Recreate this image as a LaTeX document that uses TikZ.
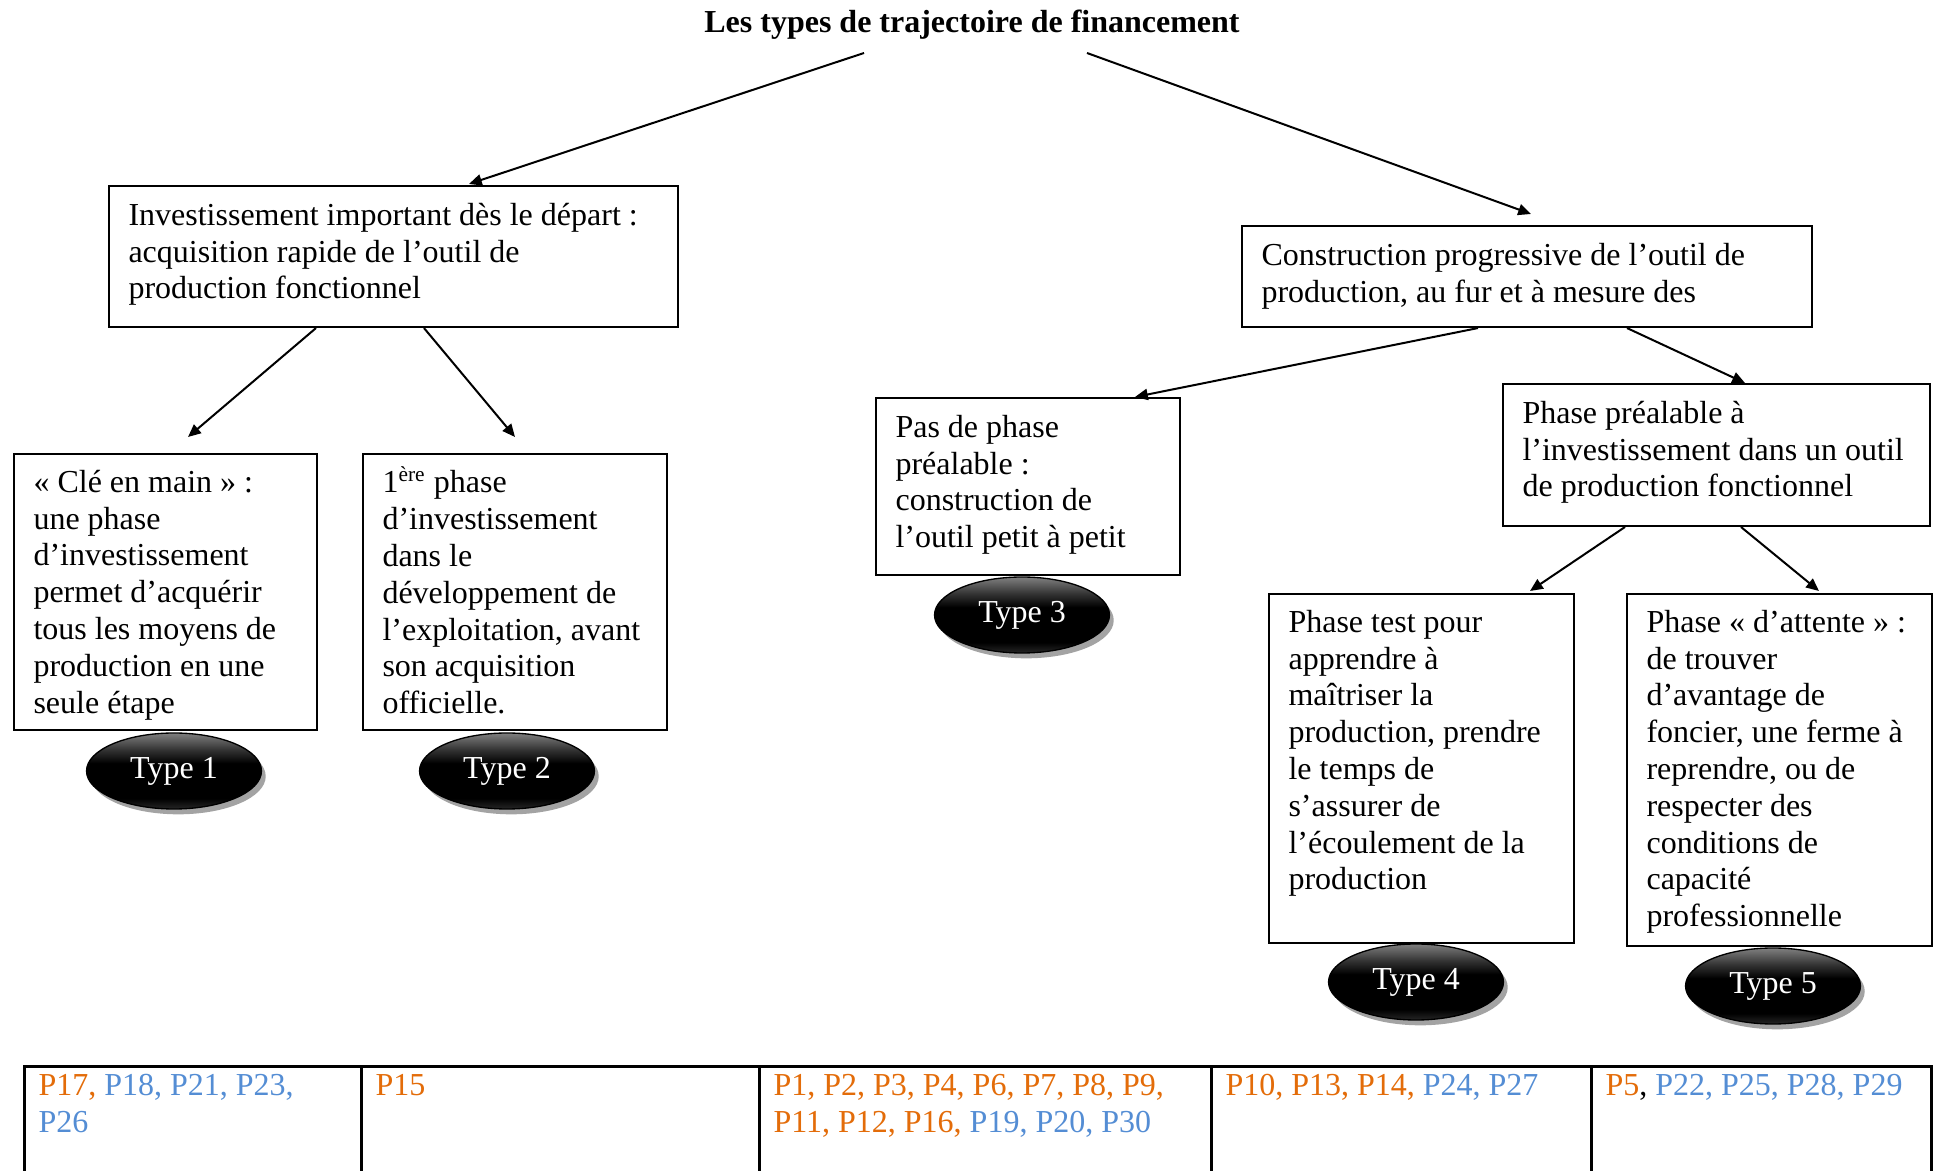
\documentclass[tikz,border=0pt]{standalone}
\usepackage{fontspec}
\setmainfont{Liberation Serif}
\usetikzlibrary{arrows.meta,calc,shapes.geometric,shadows}
\definecolor{orng}{HTML}{E36C09}
\definecolor{blu}{HTML}{548DD4}
\pgfdeclareverticalshading{typeshade}{100bp}{color(0bp)=(black!85); color(25bp)=(black!85); color(32bp)=(black); color(55bp)=(black); color(64bp)=(black!80); color(75bp)=(black!50); color(100bp)=(black!50)}
\begin{document}
\begin{tikzpicture}[x=0.375pt,y=-0.375pt,
  boxrect/.style={draw, line width=0.75pt, rectangle, inner sep=0pt, anchor=north west},
  txt/.style={inner sep=0pt, anchor=north west, align=left, font=\fontsize{12}{13.8}\selectfont},
  cell/.style={draw, line width=1pt, rectangle, inner sep=0pt, anchor=north west, minimum height=75pt},
  typeell/.style={ellipse, draw=black, line width=0.5pt, shade, shading=typeshade,
    minimum width=65.6pt, minimum height=28.5pt, inner sep=0pt, text=white,
    font=\fontsize{12}{13.8}\selectfont,
    drop shadow={shadow xshift=1.6pt, shadow yshift=-2pt, fill=black!45, opacity=0.8}},
  arr/.style={line width=0.75pt, -{Triangle[length=4.8pt,width=4.2pt]}}
]
\useasboundingbox (0,0) rectangle (1936,1171);

% title
\node[inner sep=0pt, anchor=base, font=\fontsize{12}{13.8}\selectfont\bfseries] (title) at (972,33) {Les types de trajectoire de financement};

% boxes
\node[boxrect, minimum width=213.4pt, minimum height=52.9pt] (A) at (108,185) {};
\node[boxrect, minimum width=213.8pt, minimum height=37.9pt] (B) at (1241,225) {};
\node[boxrect, minimum width=113.6pt, minimum height=103.5pt] (T1) at (13,453) {};
\node[boxrect, minimum width=114pt, minimum height=103.5pt] (T2) at (362,453) {};
\node[boxrect, minimum width=114pt, minimum height=66.4pt] (T3) at (875,397) {};
\node[boxrect, minimum width=160.1pt, minimum height=53.25pt] (C) at (1502,383) {};
\node[boxrect, minimum width=114.4pt, minimum height=130.9pt] (T4) at (1268,593) {};
\node[boxrect, minimum width=114.4pt, minimum height=132pt] (T5) at (1626,593) {};

% box texts
\node[txt] (Atxt) at ($(A.north west)+(20,14)$) {\strut Investissement important dès le départ :\\acquisition rapide de l’outil de\\production fonctionnel};
\node[txt] (Btxt) at ($(B.north west)+(20,14)$) {\strut Construction progressive de l’outil de\\production, au fur et à mesure des};
\node[txt] (T1txt) at ($(T1.north west)+(20,13)$) {\strut « Clé en main » :\\une phase\\d’investissement\\permet d’acquérir\\tous les moyens de\\production en une\\seule étape};
\node[txt] (T2txt) at ($(T2.north west)+(20,13)$) {\strut 1\textsuperscript{ère} phase\\d’investissement\\dans le\\développement de\\l’exploitation, avant\\son acquisition\\officielle.};
\node[txt] (T3txt) at ($(T3.north west)+(20,14)$) {\strut Pas de phase\\préalable :\\construction de\\l’outil petit à petit};
\node[txt] (Ctxt) at ($(C.north west)+(20,14)$) {\strut Phase préalable à\\l’investissement dans un outil\\de production fonctionnel};
\node[txt] (T4txt) at ($(T4.north west)+(20,13)$) {\strut Phase test pour\\apprendre à\\maîtriser la\\production, prendre\\le temps de\\s’assurer de\\l’écoulement de la\\production};
\node[txt] (T5txt) at ($(T5.north west)+(20,13)$) {\strut Phase « d’attente » :\\de trouver\\d’avantage de\\foncier, une ferme à\\reprendre, ou de\\respecter des\\conditions de\\capacité\\professionnelle};

% type ellipses
\node[typeell] (E1) at (174,771) {Type 1};
\node[typeell] (E2) at (507,771) {Type 2};
\node[typeell] (E3) at (1022,615) {Type 3};
\node[typeell] (E4) at (1416,982) {Type 4};
\node[typeell] (E5) at (1773,986) {Type 5};

% connectors
\draw[arr] ($(title.base)+(-108,20)$) -- ($(A.north west)+(361,-1)$);
\draw[arr] ($(title.base)+(115,20)$) -- ($(B.north west)+(290,-11)$);
\draw[arr] ($(A.south west)+(208,0)$) -- ($(T1.north west)+(175,-16)$);
\draw[arr] ($(A.south west)+(316,0)$) -- ($(T2.north west)+(153,-16)$);
\draw[arr] ($(B.south west)+(237,0)$) -- ($(T3.north west)+(260,0)$);
\draw[arr] ($(B.south west)+(386,0)$) -- ($(C.north west)+(243,0)$);
\draw[arr] ($(C.south west)+(123,0)$) -- ($(T4.north west)+(262,-2)$);
\draw[arr] ($(C.south west)+(239,0)$) -- ($(T5.north west)+(193,-2)$);

% bottom table
\node[cell, minimum width=126.4pt] (c1) at (23,1065) {};
\node[cell, minimum width=149.25pt] (c2) at (360,1065) {};
\node[cell, minimum width=169.5pt] (c3) at (758,1065) {};
\node[cell, minimum width=142.5pt] (c4) at (1210,1065) {};
\node[cell, minimum width=127.5pt] (c5) at (1590,1065) {};

\node[txt] (c1txt) at ($(c1.north west)+(15,4)$) {\strut\textcolor{orng}{P17,} \textcolor{blu}{P18, P21, P23,}\\\textcolor{blu}{P26}};
\node[txt] (c2txt) at ($(c2.north west)+(15,4)$) {\strut\textcolor{orng}{P15}};
\node[txt] (c3txt) at ($(c3.north west)+(15,4)$) {\strut\textcolor{orng}{P1, P2, P3, P4, P6, P7, P8, P9,}\\\textcolor{orng}{P11, P12, P16,} \textcolor{blu}{P19, P20, P30}};
\node[txt] (c4txt) at ($(c4.north west)+(15,4)$) {\strut\textcolor{orng}{P10, P13, P14,} \textcolor{blu}{P24, P27}};
\node[txt] (c5txt) at ($(c5.north west)+(15,4)$) {\strut\textcolor{orng}{P5}, \textcolor{blu}{P22, P25, P28, P29}};
\end{tikzpicture}
\end{document}
